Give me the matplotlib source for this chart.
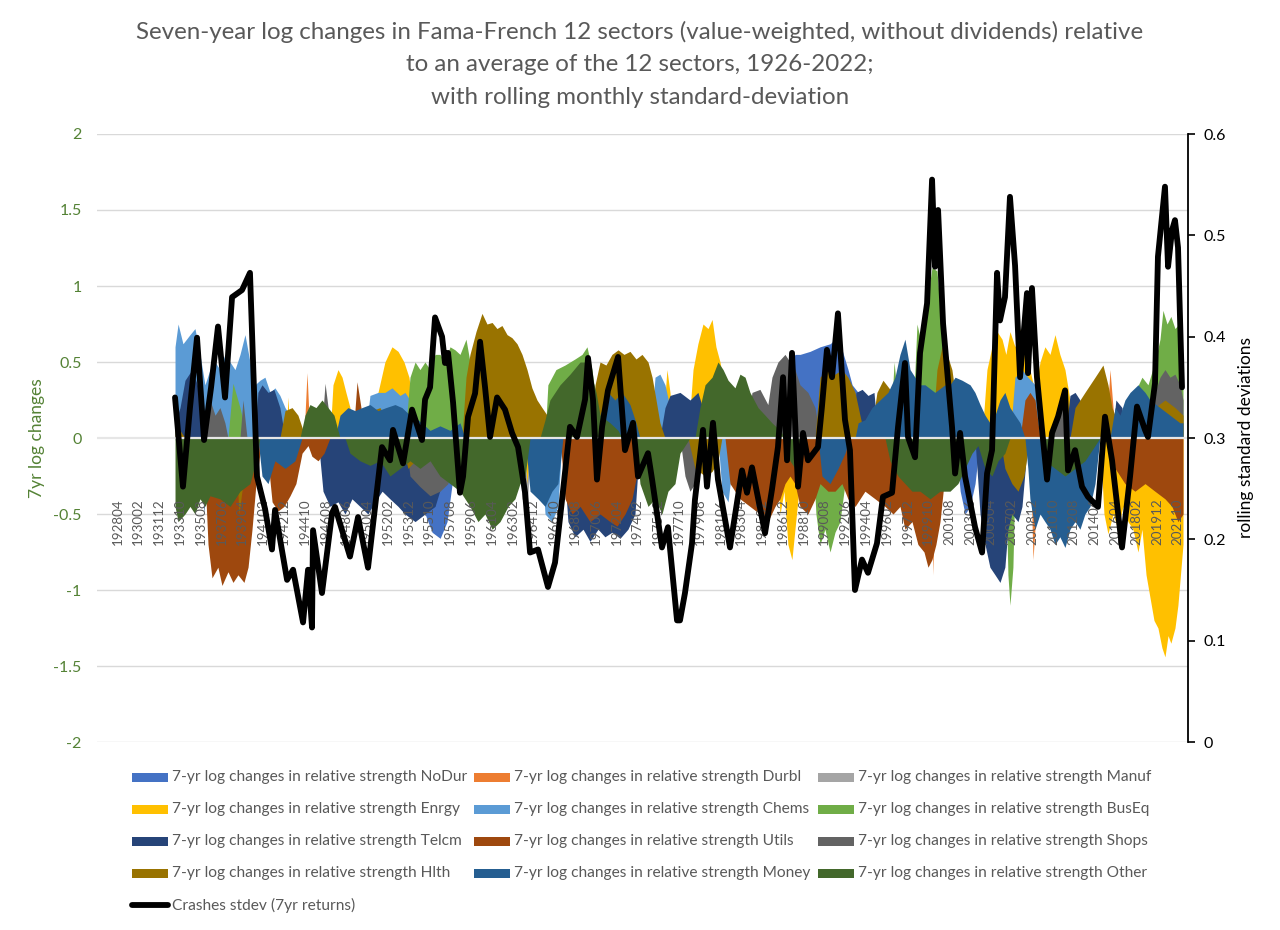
import matplotlib
matplotlib.use('Agg')
import matplotlib.pyplot as plt
from matplotlib.patches import Rectangle
from matplotlib.lines import Line2D

plt.rcParams['font.family'] = ['Lato', 'DejaVu Sans']

sectors = ['NoDur', 'Durbl', 'Manuf', 'Enrgy', 'Chems', 'BusEq',
           'Telcm', 'Utils', 'Shops', 'Hlth', 'Money', 'Other']
colors = ['#4472C4', '#ED7D31', '#A5A5A5', '#FFC000', '#5B9BD5', '#70AD47',
          '#264478', '#9E480E', '#636363', '#997300', '#255E91', '#43682B']

# 7-yr log changes in relative strength (dates in decimal years, values in log units)
nodur_t = [1954.93, 1955.37, 1955.99, 1956.70, 1957.31, 1957.76, 1958.02,
           1987.11, 1987.56, 1988.00, 1988.44, 1989.32, 1990.21, 1991.09, 1991.70, 1992.14, 1992.67, 1993.03, 1993.56, 1993.91,
           2002.11, 2002.56, 2002.99, 2003.43, 2003.87, 2004.32]
nodur_v = [0, -0.5, -0.62, -0.66, -0.55, -0.3, 0,
           0, 0.5, 0.55, 0.55, 0.57, 0.6, 0.62, 0.66, 0.58, 0.45, 0.35, 0.3, 0,
           0, -0.35, -0.5, -0.45, -0.3, 0]

durbl_t = [1936.40, 1936.67, 1936.94, 1939.31, 1939.58, 1939.84, 1941.95, 1942.13, 1942.31,
           1944.69, 1944.96, 1945.22, 1999.90, 2000.16, 2000.42, 2008.71, 2008.98, 2009.24, 2009.42,
           2015.42, 2015.77, 2016.04, 2016.29]
durbl_v = [0, 0.58, 0, 0, 0.64, 0, 0, 0.3, 0,
           0, 0.43, 0, 0, -0.9, 0, 0, -0.8, -0.5, 0,
           0, 0.45, 0.2, 0]

manuf_t = [1963.56, 1963.92, 1964.36, 1964.79]
manuf_v = [0, -0.4, -0.45, 0]

enrgy_t = [1937.81, 1938.08, 1938.35, 1943.11, 1943.28, 1943.46,
           1946.98, 1947.25, 1947.69, 1948.05, 1948.39, 1948.75, 1949.01,
           1950.69, 1951.22, 1951.83, 1952.45, 1952.99, 1953.51, 1953.95, 1954.31, 1954.57,
           1964.10, 1964.36, 1964.63,
           1976.26, 1976.70, 1976.97, 1977.24,
           1978.56, 1979.00, 1979.43, 1979.88, 1980.32, 1980.68, 1981.02, 1981.38, 1981.73, 1982.09,
           1986.31, 1986.67, 1987.02, 1987.37, 1987.72, 1987.99, 1988.26, 1988.52,
           2004.48, 2004.92, 2005.36, 2005.81, 2006.25, 2006.59, 2006.95, 2007.39, 2007.84, 2008.27,
           2008.71, 2009.16, 2009.60, 2010.03, 2010.48, 2010.92, 2011.35, 2011.80, 2012.24, 2012.69,
           2014.88, 2015.24, 2015.59, 2016.04, 2016.47, 2016.91, 2017.36, 2017.79, 2018.24, 2018.59,
           2018.95, 2019.30, 2019.65, 2020.00, 2020.35, 2020.62, 2020.89, 2021.14, 2021.50, 2021.76, 2022.21]
enrgy_v = [0, 0.56, 0, 0, 0.27, 0,
           0, 0.35, 0.45, 0.4, 0.3, 0.2, 0,
           0, 0.3, 0.5, 0.6, 0.57, 0.5, 0.4, 0.2, 0,
           0, -0.3, 0,
           0, 0.45, 0.3, 0,
           0, 0.45, 0.62, 0.75, 0.72, 0.78, 0.6, 0.5, 0.35, 0,
           0, -0.5, -0.35, -0.7, -0.8, -0.6, -0.4, 0,
           0, 0.45, 0.6, 0.7, 0.65, 0.55, 0.7, 0.6, 0.72, 0.55,
           0.45, 0.3, 0.5, 0.6, 0.55, 0.68, 0.55, 0.45, 0.25, 0,
           0, -0.5, -0.63, -0.5, -0.6, -0.45, -0.55, -0.6, -0.75, -0.6,
           -0.9, -1.05, -1.2, -1.25, -1.38, -1.44, -1.3, -1.35, -1.25, -1.1, -0.7]

chems_t = [1933.32, 1933.59, 1934.02, 1934.64, 1935.08, 1935.52, 1935.96, 1936.40, 1936.85, 1937.28,
           1937.72, 1938.17, 1938.61, 1939.05, 1939.49, 1939.93, 1940.37, 1940.81, 1941.25, 1941.70,
           1942.13, 1942.57, 1943.02, 1943.46, 1943.90, 1944.34,
           1950.07, 1950.51, 1951.22, 1951.83, 1952.45, 1953.16, 1953.60, 1954.04, 1954.39,
           1965.50, 1965.95, 1966.56, 1967.09, 1967.45,
           1975.21, 1975.65, 1976.08, 1976.53, 1976.97, 1977.41,
           1981.20, 1981.55, 1982.09, 1982.43, 1982.70,
           2006.95, 2007.39, 2008.01, 2008.53, 2009.16, 2009.60, 2010.03]
chems_v = [0.6, 0.75, 0.62, 0.68, 0.72, 0.55, 0.35, 0.45, 0.5, 0.45,
           0.55, 0.5, 0.45, 0.55, 0.68, 0.5, 0.35, 0.38, 0.4, 0.3,
           0.33, 0.28, 0.2, 0.15, 0.1, 0,
           0, 0.28, 0.3, 0.3, 0.33, 0.28, 0.3, 0.25, 0,
           0, -0.5, -0.55, -0.45, 0,
           0, 0.4, 0.42, 0.35, 0.2, 0,
           0, -0.35, -0.42, -0.2, 0,
           0, 0.4, 0.45, 0.4, 0.35, 0.2, 0]

buseq_t = [1937.99, 1938.43, 1939.05, 1939.67,
           1953.60, 1954.04, 1954.49, 1954.92, 1955.36, 1955.81, 1956.25, 1956.68, 1957.13, 1957.57,
           1958.01, 1958.45, 1958.98, 1959.33, 1959.69, 1960.03,
           1965.95, 1966.20, 1966.91, 1967.71, 1968.59, 1969.21, 1969.65, 1970.09, 1970.53, 1970.80,
           1989.49, 1989.84, 1990.20, 1990.63, 1991.08, 1991.52, 1991.96, 1992.40, 1992.66,
           1996.37, 1996.73, 1996.98, 1997.25,
           1998.31, 1998.75, 1999.19, 1999.64, 2000.07, 2000.51, 2000.87, 2001.22, 2001.49,
           2006.50, 2006.77, 2006.95, 2007.21, 2007.48,
           2017.54, 2017.97, 2018.59, 2019.12, 2019.73, 2020.18, 2020.44, 2020.80, 2021.14, 2021.50, 2021.85, 2022.21]
buseq_v = [0, 0.36, 0.2, 0,
           0, 0.4, 0.5, 0.45, 0.5, 0.45, 0.55, 0.55, 0.5, 0.6,
           0.58, 0.55, 0.65, 0.5, 0.2, 0,
           0, 0.35, 0.45, 0.48, 0.52, 0.55, 0.6, 0.45, 0.2, 0,
           0, -0.5, -0.7, -0.6, -0.75, -0.62, -0.55, -0.3, 0,
           0, 0.5, 0.3, 0,
           0, 0.75, 0.6, 0.9, 1.12, 1.1, 0.8, 0.4, 0,
           0, -0.9, -1.1, -0.85, 0,
           0, 0.3, 0.4, 0.35, 0.5, 0.65, 0.84, 0.75, 0.8, 0.72, 0.75, 0.5]

telcm_t = [1933.32, 1933.76, 1934.20, 1934.82, 1935.52, 1936.05, 1936.58,
           1940.37, 1940.63, 1940.99, 1941.52, 1942.04, 1942.57, 1943.02,
           1945.93, 1946.37, 1946.98, 1947.69, 1948.31, 1948.92, 1949.63, 1950.33, 1950.95, 1951.58,
           1952.27, 1952.99, 1953.60, 1954.49, 1955.36, 1956.25, 1956.86, 1957.39,
           1967.45, 1967.97, 1968.59, 1969.30, 1969.91, 1970.62, 1971.23, 1971.85, 1972.56, 1973.26, 1973.88, 1974.32,
           1976.08, 1976.53, 1976.97, 1977.85, 1978.73, 1979.43, 1980.06, 1980.50,
           1993.02, 1993.37, 1993.91, 1994.43, 1994.96, 1995.31,
           2003.86, 2004.31, 2004.75, 2005.18, 2005.63, 2006.07, 2006.50, 2006.77, 2007.12, 2007.66, 2008.01, 2008.53,
           2011.80, 2012.24, 2012.69, 2013.12, 2013.56,
           2015.95, 2016.29, 2016.83, 2017.09]
telcm_v = [0.1, 0.2, 0.38, 0.45, 0.3, 0.1, 0,
           0, 0.3, 0.35, 0.3, 0.32, 0.2, 0,
           0, -0.35, -0.45, -0.42, -0.5, -0.4, -0.45, -0.5, -0.42, -0.35,
           -0.4, -0.45, -0.5, -0.55, -0.5, -0.45, -0.3, 0,
           0, -0.55, -0.65, -0.6, -0.68, -0.6, -0.65, -0.62, -0.66, -0.6, -0.5, 0,
           0, 0.2, 0.28, 0.3, 0.25, 0.3, 0.15, 0,
           0, 0.3, 0.32, 0.28, 0.3, 0,
           0, -0.5, -0.7, -0.85, -0.9, -0.95, -0.85, -0.6, -0.5, -0.55, -0.45, 0,
           0, 0.28, 0.3, 0.25, 0,
           0, 0.25, 0.2, 0]

utils_t = [1935.78, 1936.05, 1936.23, 1936.58, 1937.10, 1937.46, 1937.99, 1938.43, 1938.87, 1939.40,
           1939.76, 1940.11, 1940.46, 1940.81, 1941.17, 1941.52, 1941.88, 1942.40, 1942.93, 1943.46,
           1943.98, 1944.52, 1945.05, 1945.39, 1945.93, 1946.46, 1946.98,
           1949.01, 1949.37, 1949.72, 1949.99,
           1967.27, 1967.71, 1968.33, 1969.04, 1969.91, 1970.80, 1971.68, 1972.30, 1973.00, 1973.62, 1974.15, 1974.76,
           1981.82, 1982.26, 1983.14, 1984.02, 1984.90, 1985.60, 1986.23, 1986.67, 1987.11, 1987.55,
           1987.99, 1988.43, 1989.13, 1989.76, 1990.20, 1990.90, 1991.52, 1992.13, 1992.66, 1993.29,
           1994.16, 1995.05, 1995.93, 1996.64, 1997.25, 1997.69, 1998.31, 1998.83, 1999.37, 1999.72,
           2000.07, 2000.42, 2000.78, 2001.13, 2001.49, 2001.83,
           2007.84, 2008.27, 2008.71, 2009.16, 2009.60,
           2015.77, 2016.22, 2017.09, 2017.97, 2018.86, 2019.73, 2020.62, 2021.23, 2021.76, 2022.21]
utils_v = [0, -0.4, -0.7, -0.92, -0.85, -0.97, -0.88, -0.95, -0.9, -0.95,
           -0.85, -0.6, -0.3, -0.1, 0, -0.15, -0.42, -0.48, -0.45, -0.38,
           -0.3, -0.1, -0.05, -0.12, -0.15, -0.1, 0,
           0, 0.37, 0.2, 0,
           0, -0.4, -0.5, -0.45, -0.55, -0.5, -0.55, -0.58, -0.5, -0.4, -0.2, 0,
           0, -0.3, -0.4, -0.45, -0.5, -0.55, -0.45, -0.4, -0.3, -0.25,
           -0.3, -0.45, -0.5, -0.4, -0.3, -0.35, -0.35, -0.3, -0.4, -0.45,
           -0.35, -0.4, -0.45, -0.5, -0.45, -0.6, -0.55, -0.7, -0.75, -0.85,
           -0.8, -0.7, -0.55, -0.3, -0.15, 0,
           0, 0.25, 0.3, 0.25, 0,
           0, -0.2, -0.3, -0.35, -0.3, -0.35, -0.4, -0.45, -0.55, -0.5]

shops_t = [1935.96, 1936.40, 1936.85, 1937.28, 1937.72, 1937.99,
           1939.05, 1939.31, 1939.67,
           1946.20, 1946.55, 1946.82, 1947.07,
           1953.60, 1954.04, 1954.92, 1955.81, 1956.68, 1957.39, 1957.75,
           1977.85, 1978.29, 1978.73, 1979.17, 1979.61,
           1983.59, 1984.20, 1984.90, 1985.60, 1985.96, 1986.49, 1987.11, 1987.55, 1987.99, 1988.43, 1989.13, 1989.76, 1990.20,
           2010.48, 2011.19, 2011.80, 2012.24,
           2019.30, 2019.73, 2020.18, 2020.62, 2021.06, 2021.50, 2021.94, 2022.21]
shops_v = [0, 0.25, 0.15, 0.2, 0.1, 0,
           0, 0.25, 0,
           0, 0.36, 0.2, 0,
           0, -0.25, -0.32, -0.38, -0.35, -0.3, 0,
           0, -0.25, -0.35, -0.3, 0,
           0, 0.3, 0.32, 0.22, 0.4, 0.5, 0.55, 0.5, 0.45, 0.35, 0.3, 0.2, 0,
           0, 0.22, 0.2, 0,
           0, 0.3, 0.4, 0.45, 0.4, 0.42, 0.35, 0.25]

hlth_t = [1933.32, 1933.76, 1934.20,
          1938.61, 1938.96, 1939.31, 1939.58,
          1942.57, 1943.02, 1943.64, 1944.16, 1944.61, 1944.87,
          1950.16, 1950.69, 1951.40, 1951.92, 1952.27,
          1953.16, 1953.86, 1954.49, 1954.92,
          1958.62, 1958.98, 1959.33, 1959.86, 1960.39, 1960.83, 1961.28, 1961.71, 1962.15, 1962.60,
          1963.03, 1963.48, 1963.92, 1964.36, 1964.79, 1965.24, 1965.68, 1966.13, 1966.56, 1966.91, 1967.27,
          1969.91, 1970.36, 1970.80, 1971.32, 1971.85, 1972.39, 1972.91, 1973.44, 1973.97, 1974.50,
          1975.03, 1975.39, 1975.74, 1976.08, 1976.53,
          1978.56, 1979.17, 1980.06, 1980.68, 1981.20, 1981.55,
          1989.76, 1990.20, 1990.81, 1991.52, 1992.13, 1992.66, 1993.29, 1993.72, 1994.16,
          1994.61, 1995.22, 1995.75, 1996.37, 1996.81, 1997.25,
          2000.07, 2000.51, 2000.96, 2001.40, 2001.83, 2002.11, 2002.56,
          2006.07, 2006.50, 2007.12, 2007.66, 2008.18, 2008.71,
          2012.24, 2012.69, 2013.56, 2014.45, 2015.15, 2015.59, 2015.95, 2016.47, 2017.09,
          2018.42, 2018.86, 2019.73, 2020.62, 2021.50, 2022.21]
hlth_v = [0.08, 0.05, 0,
          0, -0.5, -0.3, 0,
          0, 0.18, 0.2, 0.15, 0.05, 0,
          0, 0.18, 0.2, 0.12, 0,
          0, -0.2, -0.15, 0,
          0, 0.4, 0.55, 0.7, 0.82, 0.75, 0.76, 0.72, 0.74, 0.68,
          0.66, 0.62, 0.55, 0.45, 0.33, 0.25, 0.2, 0.15, 0.1, 0.05, 0,
          0, 0.35, 0.5, 0.48, 0.55, 0.58, 0.55, 0.57, 0.52, 0.55,
          0.5, 0.4, 0.25, 0.1, 0,
          0, -0.2, -0.25, -0.22, -0.15, 0,
          0, 0.4, 0.45, 0.42, 0.45, 0.4, 0.3, 0.15, 0,
          0, 0.3, 0.38, 0.32, 0.2, 0,
          0, 0.45, 0.6, 0.55, 0.45, 0.3, 0,
          0, -0.2, -0.3, -0.35, -0.25, 0,
          0, 0.2, 0.3, 0.4, 0.48, 0.35, 0.2, 0.1, 0,
          0, 0.15, 0.2, 0.25, 0.2, 0.15]

money_t = [1935.52, 1935.87, 1936.23,
           1940.63, 1940.99, 1941.52, 1942.13, 1943.02, 1943.90, 1944.52,
           1947.43, 1947.87, 1948.57, 1949.19, 1949.81, 1950.51, 1951.22, 1951.92, 1952.72, 1953.33,
           1954.04, 1954.75, 1955.36, 1955.81, 1956.68, 1957.57, 1958.45, 1958.89,
           1964.19, 1964.63, 1965.33, 1965.95, 1966.56, 1967.09, 1967.53,
           1970.36, 1970.80, 1971.50, 1972.12, 1972.73, 1973.44, 1973.97, 1974.32,
           1990.02, 1990.37, 1991.08, 1991.79, 1992.40, 1992.84,
           1993.29, 1993.56, 1994.16, 1994.78, 1995.48, 1996.19, 1996.81, 1997.25, 1997.69, 1998.14,
           1998.57, 1999.01, 1999.46, 2000.33, 2001.22, 2001.66, 2002.11, 2002.72, 2003.43, 2003.86,
           2004.31, 2004.75, 2005.18, 2005.63, 2006.07, 2006.50, 2006.95, 2007.39, 2007.84, 2008.27,
           2008.53, 2008.71, 2009.16, 2009.60, 2010.03, 2010.48, 2010.92, 2011.35, 2011.80, 2012.24,
           2012.69, 2013.12, 2013.56, 2014.01, 2014.45, 2014.88,
           2015.77, 2016.22, 2016.65, 2017.09, 2017.54, 2018.24, 2018.86, 2019.30, 2020.18, 2021.06, 2021.94, 2022.21]
money_v = [0, -0.5, 0,
           0, -0.25, -0.3, -0.15, -0.2, -0.15, 0,
           0, 0.15, 0.2, 0.18, 0.2, 0.22, 0.18, 0.2, 0.22, 0.2,
           0.15, 0.12, 0.08, 0.05, 0.08, 0.05, 0.1, 0,
           0, -0.35, -0.4, -0.45, -0.35, -0.3, 0,
           0, 0.15, 0.3, 0.25, 0.3, 0.22, 0.1, 0,
           0, -0.25, -0.3, -0.2, -0.1, 0,
           0, 0.1, 0.12, 0.2, 0.25, 0.3, 0.4, 0.55, 0.65, 0.45,
           0.4, 0.35, 0.35, 0.3, 0.35, 0.35, 0.4, 0.38, 0.35, 0.3,
           0.22, 0.15, 0.1, 0.15, 0.25, 0.3, 0.2, 0.15, 0.1, 0,
           -0.2, -0.4, -0.6, -0.5, -0.55, -0.6, -0.7, -0.65, -0.72, -0.6,
           -0.55, -0.6, -0.5, -0.45, -0.3, 0,
           0, 0.2, 0.15, 0.25, 0.3, 0.35, 0.3, 0.25, 0.2, 0.15, 0.1, 0.1]

other_t = [1933.32, 1933.59, 1934.20, 1934.64, 1935.08, 1935.52, 1935.96, 1936.40, 1937.28, 1938.17,
           1939.05, 1939.93, 1940.46, 1940.81,
           1944.34, 1944.78, 1945.22, 1945.75, 1946.28, 1946.81, 1947.34, 1947.69, 1947.87,
           1948.31, 1948.75, 1949.63, 1950.51, 1951.40, 1952.27, 1953.16, 1954.04, 1954.92, 1955.81,
           1956.68, 1957.57, 1958.45, 1959.33, 1960.03, 1960.65, 1961.28, 1961.98, 1962.69, 1963.30,
           1963.74, 1964.19, 1964.63,
           1965.50, 1965.95, 1966.38, 1967.27, 1968.15, 1969.04, 1969.74, 1970.09, 1970.45, 1970.80,
           1971.68, 1972.39, 1972.73,
           1973.97, 1974.32, 1975.03, 1975.65, 1976.26, 1976.79, 1977.41, 1977.85, 1978.29, 1978.73,
           1979.17, 1979.61, 1980.06, 1980.68, 1981.20, 1981.65, 1982.09, 1982.70, 1983.14, 1983.59,
           1984.02, 1984.73, 1985.35, 1985.96, 1986.67, 1987.11, 1987.55, 1987.99, 1988.43,
           1995.93, 1996.37, 1997.07, 1997.69, 1998.31, 1999.01, 1999.90, 2000.78, 2001.66, 2002.36,
           2002.99, 2003.60, 2004.13, 2004.75, 2005.36, 2005.90, 2006.50, 2006.95,
           2009.60, 2010.03, 2010.92, 2011.80, 2012.69, 2013.56, 2014.45, 2014.88]
other_v = [-0.45, -0.55, -0.5, -0.45, -0.5, -0.4, -0.45, -0.38, -0.4, -0.45,
           -0.35, -0.3, -0.15, 0,
           0, 0.15, 0.22, 0.2, 0.25, 0.2, 0.15, 0.05, 0,
           0, -0.1, -0.15, -0.18, -0.15, -0.25, -0.2, -0.15, -0.2, -0.15,
           -0.25, -0.3, -0.35, -0.45, -0.55, -0.5, -0.6, -0.55, -0.45, -0.4,
           -0.3, -0.25, 0,
           0, 0.12, 0.25, 0.35, 0.42, 0.5, 0.5, 0.4, 0.3, 0.15,
           0.1, 0.05, 0,
           0, -0.3, -0.45, -0.4, -0.5, -0.35, -0.3, -0.1, -0.05, 0,
           0, 0.2, 0.35, 0.4, 0.5, 0.45, 0.38, 0.33, 0.42, 0.4,
           0.3, 0.2, 0.15, 0.1, 0.05, 0, -0.15, -0.2, 0,
           0, -0.15, -0.25, -0.3, -0.35, -0.35, -0.4, -0.35, -0.35, -0.3,
           -0.2, -0.1, -0.05, -0.2, -0.25, -0.15, -0.1, 0,
           0, -0.15, -0.2, -0.25, -0.2, -0.15, -0.05, 0]

# Crashes stdev (7yr returns), right axis
stdev_t = [1933.32, 1934.02, 1934.64, 1935.26, 1935.88, 1936.50, 1937.11, 1937.73, 1938.35, 1939.23,
           1939.93, 1940.55, 1941.26, 1941.87, 1942.14, 1943.20, 1943.73, 1944.61, 1945.05, 1945.40,
           1945.49, 1946.28, 1947.17, 1947.43, 1948.75, 1949.46, 1950.34, 1951.57, 1952.28, 1952.54,
           1953.43, 1954.22, 1955.10, 1955.37, 1955.81, 1956.25, 1956.87, 1957.13, 1957.40, 1957.84,
           1958.45, 1958.72, 1959.16, 1959.78, 1960.22, 1960.66, 1961.10, 1961.72, 1962.42, 1963.04,
           1963.57, 1964.19, 1964.63, 1965.33, 1966.21, 1966.83, 1967.45, 1968.15, 1968.77, 1969.48,
           1969.74, 1970.18, 1970.53, 1970.98, 1971.50, 1972.39, 1973.00, 1973.71, 1974.15, 1975.03,
           1975.39, 1976.26, 1976.79, 1977.59, 1977.85, 1978.29, 1978.91, 1979.17, 1979.88, 1980.23,
           1980.76, 1981.20, 1982.26, 1983.32, 1983.76, 1984.20, 1985.35, 1985.96, 1986.49, 1986.94,
           1987.29, 1987.73, 1988.26, 1988.70, 1989.14, 1990.02, 1990.37, 1990.81, 1991.26, 1991.78,
           1992.40, 1992.84, 1993.28, 1993.90, 1994.43, 1995.22, 1995.75, 1996.55, 1997.08, 1997.69,
           1997.96, 1998.58, 1999.02, 1999.64, 2000.08, 2000.34, 2000.61, 2001.05, 2001.84, 2002.11,
           2002.55, 2002.99, 2003.87, 2004.49, 2004.93, 2005.37, 2005.81, 2006.07, 2006.51, 2006.95,
           2007.22, 2007.40, 2007.84, 2008.45, 2008.54, 2008.89, 2009.33, 2009.78, 2010.22, 2010.66,
           2011.19, 2011.81, 2012.07, 2012.69, 2013.30, 2013.83, 2014.71, 2015.33, 2015.95, 2016.83,
           2017.54, 2018.15, 2018.86, 2019.12, 2019.74, 2020.00, 2020.62, 2020.89, 2021.24, 2021.50,
           2021.77, 2022.12]
stdev_v = [0.340, 0.252, 0.330, 0.399, 0.298, 0.350, 0.410, 0.340, 0.439, 0.446,
           0.463, 0.262, 0.230, 0.190, 0.229, 0.160, 0.170, 0.118, 0.170, 0.113,
           0.209, 0.147, 0.226, 0.232, 0.183, 0.222, 0.172, 0.291, 0.278, 0.308,
           0.275, 0.328, 0.298, 0.338, 0.350, 0.419, 0.400, 0.374, 0.384, 0.335,
           0.246, 0.262, 0.321, 0.344, 0.395, 0.350, 0.301, 0.340, 0.328, 0.305,
           0.291, 0.246, 0.187, 0.190, 0.153, 0.177, 0.239, 0.311, 0.301, 0.338,
           0.379, 0.338, 0.259, 0.311, 0.347, 0.380, 0.288, 0.315, 0.262, 0.285,
           0.259, 0.192, 0.212, 0.120, 0.120, 0.147, 0.196, 0.239, 0.308, 0.252,
           0.315, 0.259, 0.192, 0.268, 0.246, 0.271, 0.206, 0.249, 0.291, 0.360,
           0.278, 0.384, 0.252, 0.305, 0.278, 0.291, 0.331, 0.387, 0.360, 0.423,
           0.318, 0.288, 0.150, 0.180, 0.167, 0.196, 0.242, 0.246, 0.311, 0.374,
           0.301, 0.281, 0.384, 0.433, 0.555, 0.469, 0.525, 0.413, 0.311, 0.265,
           0.305, 0.262, 0.212, 0.187, 0.265, 0.288, 0.463, 0.416, 0.439, 0.538,
           0.498, 0.470, 0.360, 0.443, 0.364, 0.448, 0.360, 0.308, 0.259, 0.305,
           0.321, 0.347, 0.268, 0.288, 0.252, 0.242, 0.232, 0.321, 0.278, 0.192,
           0.262, 0.331, 0.308, 0.301, 0.354, 0.479, 0.548, 0.469, 0.505, 0.515,
           0.488, 0.350]

tick_labels = ['192804', '193002', '193112', '193310', '193508', '193706', '193904', '194102',
               '194212', '194410', '194608', '194806', '195004', '195202', '195312', '195510',
               '195708', '195906', '196104', '196302', '196412', '196610', '196808', '197006',
               '197204', '197402', '197512', '197710', '197908', '198106', '198304', '198502',
               '198612', '198810', '199008', '199206', '199404', '199602', '199712', '199910',
               '200108', '200306', '200504', '200702', '200812', '201010', '201208', '201406',
               '201604', '201802', '201912', '202110']

series = [(nodur_t, nodur_v), (durbl_t, durbl_v), (manuf_t, manuf_v), (enrgy_t, enrgy_v),
          (chems_t, chems_v), (buseq_t, buseq_v), (telcm_t, telcm_v), (utils_t, utils_v),
          (shops_t, shops_v), (hlth_t, hlth_v), (money_t, money_v), (other_t, other_v)]

GREEN = '#548235'
GRAY_TXT = '#595959'
W, H = 1280, 930

fig = plt.figure(figsize=(12.8, 9.3), dpi=100)
ax = fig.add_axes([97 / W, 188 / H, 1091 / W, 608 / H])
ax.set_xlim(1926.44, 2022.65)
ax.set_ylim(-2, 2)

for y in [-2, -1.5, -1, -0.5, 0.5, 1, 1.5, 2]:
    ax.axhline(y, color='#D9D9D9', lw=1.0, zorder=0)

for (t, v), c in zip(series, colors):
    ax.fill_between(t, 0, v, color=c, linewidth=0, zorder=2)

ax.axhline(0, color='#E6E6E6', lw=1.6, zorder=3)

for lab in tick_labels:
    pos = int(lab[:4]) + (int(lab[4:]) - 1) / 12
    ax.text(pos, -0.395, lab, rotation=90, ha='center', va='top', fontsize=9.6,
            color=GRAY_TXT, zorder=4)

ax.set_xticks([])
yt = [-2, -1.5, -1, -0.5, 0, 0.5, 1, 1.5, 2]
ax.set_yticks(yt)
ax.set_yticklabels(['-2', '-1.5', '-1', '-0.5', '0', '0.5', '1', '1.5', '2'])
ax.tick_params(axis='y', length=0, pad=11, labelsize=11.5, labelcolor=GREEN)
for s in ax.spines.values():
    s.set_visible(False)

ax2 = ax.twinx()
ax2.set_ylim(0, 0.6)
ax2.plot(stdev_t, stdev_v, color='black', lw=4.2, solid_joinstyle='round',
         solid_capstyle='round', zorder=5)
ax2.set_yticks([0, 0.1, 0.2, 0.3, 0.4, 0.5, 0.6])
ax2.set_yticklabels(['0', '0.1', '0.2', '0.3', '0.4', '0.5', '0.6'])
ax2.tick_params(axis='y', direction='out', length=5, width=1.2, colors='black',
                labelsize=11.5, pad=6)
for name, s in ax2.spines.items():
    s.set_visible(name == 'right')
ax2.spines['right'].set_color('black')
ax2.spines['right'].set_linewidth(1.3)

fig.text(37 / W, 1 - 438 / H, '7yr log changes', rotation=90, ha='center', va='center',
         fontsize=12.5, color=GREEN)
fig.text(1246 / W, 1 - 438 / H, 'rolling standard deviations', rotation=90,
         ha='center', va='center', fontsize=12.5, color='black')

title_lines = ['Seven-year log changes in Fama-French 12 sectors (value-weighted, without dividends) relative',
               'to an average of the 12 sectors, 1926-2022;',
               'with rolling monthly standard-deviation']
for i, line in enumerate(title_lines):
    fig.text(0.5, 1 - (32 + 32.5 * i) / H, line, ha='center', va='center', fontsize=17.4,
             color=GRAY_TXT)

# legend laid out in rows of three, like the original
col_patch_x = [132, 474, 818]
row_y = [777, 809, 841, 873, 905]
for i, (name, c) in enumerate(zip(sectors, colors)):
    r, col = divmod(i, 3)
    x0, y0 = col_patch_x[col], row_y[r]
    fig.add_artist(Rectangle((x0 / W, 1 - (y0 + 4.5) / H), 36 / W, 9 / H,
                             transform=fig.transFigure, facecolor=c, edgecolor='none'))
    fig.text((x0 + 40) / W, 1 - y0 / H, '7-yr log changes in relative strength ' + name,
             ha='left', va='center', fontsize=11.2, color=GRAY_TXT)
fig.add_artist(Line2D([132 / W, 168 / W], [1 - row_y[4] / H] * 2, transform=fig.transFigure,
                      color='black', lw=4.2, solid_capstyle='round'))
fig.text(172 / W, 1 - row_y[4] / H, 'Crashes stdev (7yr returns)', ha='left', va='center',
         fontsize=11.2, color=GRAY_TXT)

fig.savefig('out.png', dpi=100, facecolor='white')
